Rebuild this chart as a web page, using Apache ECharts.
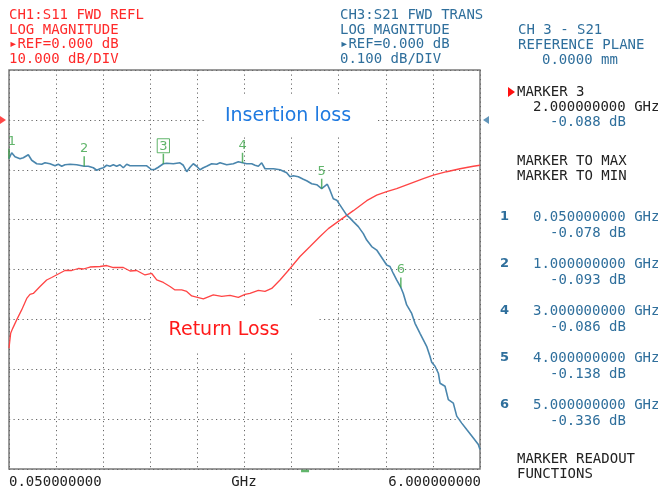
<!DOCTYPE html>
<html>
<head>
<meta charset="utf-8">
<title>S11 / S21</title>
<script src="https://cdn.jsdelivr.net/npm/echarts@6/dist/echarts.min.js"></script>
<style>
  html, body { margin: 0; padding: 0; background: #fff; }
  #container { width: 658px; height: 491px; }
</style>
</head>
<body>
<div id="container"></div>
<script>
// CH3 S21 (insertion loss), dB
var s21Freq = [0.05, 0.084, 0.126, 0.189, 0.231, 0.294, 0.337, 0.400, 0.463, 0.505, 0.568, 0.631, 0.673, 0.716, 0.757, 0.821, 0.905,
  1.0, 1.052, 1.115, 1.158, 1.2, 1.242, 1.284, 1.326, 1.368, 1.41, 1.452, 1.494, 1.537, 1.579, 1.663, 1.79, 1.853, 1.894, 1.936,
  2.0, 2.042, 2.126, 2.21, 2.252, 2.295, 2.337, 2.378, 2.421, 2.463, 2.505, 2.547, 2.61, 2.674, 2.716, 2.8, 2.884, 2.947,
  3.0, 3.053, 3.116, 3.158, 3.2, 3.242, 3.284, 3.326, 3.39, 3.474, 3.558, 3.6, 3.642, 3.705, 3.768, 3.81, 3.874, 3.937,
  4.0, 4.021, 4.071, 4.105, 4.147, 4.19, 4.232, 4.274, 4.316, 4.358, 4.4, 4.463, 4.526, 4.569, 4.632, 4.695, 4.737, 4.779, 4.821, 4.863, 4.905, 4.947,
  5.0, 5.031, 5.074, 5.137, 5.179, 5.242, 5.284, 5.326, 5.368, 5.39, 5.432, 5.474, 5.495, 5.558, 5.6, 5.663, 5.706, 5.769, 5.832, 5.916, 5.979, 6.0];
var s21Db = [-0.078, -0.066, -0.074, -0.078, -0.076, -0.070, -0.081, -0.088, -0.089, -0.086, -0.088, -0.092, -0.089, -0.093, -0.090, -0.089, -0.090,
  -0.093, -0.093, -0.096, -0.101, -0.098, -0.096, -0.091, -0.093, -0.090, -0.093, -0.090, -0.096, -0.089, -0.092, -0.092, -0.092, -0.100, -0.099, -0.095,
  -0.088, -0.087, -0.088, -0.086, -0.091, -0.104, -0.095, -0.088, -0.093, -0.100, -0.096, -0.093, -0.088, -0.089, -0.086, -0.090, -0.088, -0.084,
  -0.086, -0.088, -0.088, -0.091, -0.093, -0.086, -0.098, -0.098, -0.098, -0.100, -0.106, -0.114, -0.112, -0.114, -0.119, -0.122, -0.128, -0.130,
  -0.138, -0.140, -0.129, -0.141, -0.158, -0.161, -0.171, -0.181, -0.191, -0.197, -0.204, -0.214, -0.228, -0.241, -0.254, -0.261, -0.271, -0.281, -0.291, -0.294, -0.308, -0.321,
  -0.336, -0.348, -0.371, -0.388, -0.408, -0.428, -0.441, -0.454, -0.474, -0.486, -0.494, -0.508, -0.528, -0.534, -0.561, -0.568, -0.594, -0.608, -0.621, -0.638, -0.651, -0.661];

// CH1 S11 (return loss), dB
var s11Freq = [0.05, 0.071, 0.097, 0.147, 0.210, 0.274, 0.315, 0.357, 0.442, 0.526, 0.589, 0.673, 0.757, 0.842, 0.925, 0.989,
  1.073, 1.2, 1.284, 1.368, 1.494, 1.579, 1.663, 1.768, 1.853, 1.916, 2.0, 2.084, 2.147, 2.232, 2.295, 2.358, 2.505, 2.631, 2.737, 2.842, 2.947,
  3.031, 3.094, 3.2, 3.284, 3.369, 3.474, 3.6, 3.726, 3.853, 3.979, 4.084, 4.232, 4.4, 4.569, 4.695, 4.821, 4.947,
  5.116, 5.284, 5.411, 5.579, 5.747, 5.916, 6.0];
var s11Db = [-45.8, -42.8, -41.8, -40.1, -38.1, -35.8, -35.0, -34.8, -33.4, -32.1, -31.6, -30.9, -30.2, -30.2, -29.8, -29.9,
  -29.5, -29.4, -29.2, -29.6, -29.6, -30.3, -30.2, -31.1, -30.8, -32.1, -32.6, -33.4, -34.1, -34.1, -34.4, -35.3, -35.9, -35.1, -35.4, -35.2, -35.6,
  -35.0, -34.8, -34.2, -34.4, -33.8, -32.1, -29.8, -27.4, -25.4, -23.4, -21.8, -20.1, -18.2, -16.2, -15.1, -14.4, -13.8,
  -12.8, -11.8, -11.1, -10.4, -9.8, -9.3, -9.1];

// markers on S21
var markerNames = ['1', '2', '3', '4', '5', '6'];
var markerFreq = [0.05, 1.0, 2.0, 3.0, 4.0, 5.0];
var markerDb = [-0.078, -0.093, -0.088, -0.086, -0.138, -0.336];
var activeMarker = 2;

// scale settings
var freqStart = 0.05, freqStop = 6.0;
var s11Ref = 0, s11PerDiv = 10;
var s21Ref = 0, s21PerDiv = 0.1;
var refDiv = 7, nDivY = 8, nDivX = 10;
var stimTick = 3.79;

var mono = '"DejaVu Sans Mono", "Liberation Mono", monospace';
var red = '#ff2a2a', blue = '#2f6f9c', black = '#222', green = '#3aa346';

function pairs(xs, ys) {
  var out = [];
  for (var i = 0; i < xs.length; i++) out.push([xs[i], ys[i]]);
  return out;
}

function txt(x, y, s, color, extra) {
  var st = { text: s, fill: color, font: '14px ' + mono, align: 'left', verticalAlign: 'middle',
             textAlign: 'left', textVerticalAlign: 'middle', lineHeight: 14.7 };
  if (extra) for (var k in extra) st[k] = extra[k];
  return { type: 'text', x: x, y: y, z: 20, style: st };
}

var markerData = [];
for (var i = 0; i < markerNames.length; i++) {
  var d = { name: markerNames[i], value: [markerFreq[i], markerDb[i]] };
  if (i === activeMarker) {
    d.label = { borderColor: green, borderWidth: 1, padding: [1, 2, 0, 2] };
  }
  if (i === 0) {
    d.label = { offset: [3, 0] };
  }
  markerData.push(d);
}

// right panel marker readout
var panel = [];
panel.push(txt(517, 92, 'MARKER ' + markerNames[activeMarker], black));
panel.push({ type: 'polygon', z: 20, shape: { points: [[508, 87], [515, 92], [508, 97]] }, style: { fill: '#ff1010' } });
panel.push(txt(533, 107, markerFreq[activeMarker].toFixed(9) + ' GHz', black));
panel.push(txt(550, 122, markerDb[activeMarker].toFixed(3) + ' dB', blue));
panel.push(txt(517, 169, 'MARKER TO MAX\nMARKER TO MIN', black));
var rowY = 217;
for (var j = 0; j < markerNames.length; j++) {
  if (j === activeMarker) continue;
  panel.push(txt(500, rowY, markerNames[j], blue, { font: 'bold 13px "DejaVu Sans", sans-serif' }));
  panel.push(txt(533, rowY, markerFreq[j].toFixed(9) + ' GHz', blue));
  panel.push(txt(550, rowY + 16, markerDb[j].toFixed(3) + ' dB', blue));
  rowY += 47;
}
panel.push(txt(517, 467, 'MARKER READOUT\nFUNCTIONS', black));

var myChart = echarts.init(document.getElementById('container'));
var option = {
  animation: false,
  backgroundColor: '#fff',
  grid: { left: 9, right: 178, top: 70, bottom: 22, show: true, borderColor: '#7a7a7a', borderWidth: 1.5 },
  xAxis: [
    { type: 'value', min: 0, max: nDivX, interval: 1, axisLine: { show: false }, axisTick: { show: false }, axisLabel: { show: false },
      splitLine: { show: true, lineStyle: { color: '#666', width: 1, type: [1.2, 3.3] } } },
    { type: 'value', min: freqStart, max: freqStop, show: false }
  ],
  yAxis: [
    { type: 'value', min: -refDiv, max: nDivY - refDiv, interval: 1, axisLine: { show: false }, axisTick: { show: false }, axisLabel: { show: false },
      splitLine: { show: true, lineStyle: { color: '#666', width: 1, type: [1.2, 3.3] } } },
    { type: 'value', min: s21Ref - refDiv * s21PerDiv, max: s21Ref + (nDivY - refDiv) * s21PerDiv, show: false },
    { type: 'value', min: s11Ref - refDiv * s11PerDiv, max: s11Ref + (nDivY - refDiv) * s11PerDiv, show: false }
  ],
  series: [
    { name: 'S11', type: 'line', xAxisIndex: 1, yAxisIndex: 2, data: pairs(s11Freq, s11Db), showSymbol: false,
      lineStyle: { color: '#ff4545', width: 1.3 }, z: 3 },
    { name: 'S21', type: 'line', xAxisIndex: 1, yAxisIndex: 1, data: pairs(s21Freq, s21Db), showSymbol: false,
      lineStyle: { color: '#4a86ad', width: 1.6 }, z: 4 },
    { name: 'markers', type: 'scatter', xAxisIndex: 1, yAxisIndex: 1, data: markerData, clip: false, z: 5,
      symbol: 'rect', symbolSize: [1.5, 10], symbolOffset: [0, -5], itemStyle: { color: green },
      label: { show: true, position: 'top', distance: 1, color: green, fontSize: 13, fontFamily: '"DejaVu Sans", sans-serif',
               formatter: function (p) { return p.name; } } },
    { name: 'ref11', type: 'scatter', xAxisIndex: 1, yAxisIndex: 2, data: [[freqStart, s11Ref]], clip: false, z: 5,
      symbol: 'path://M0,0L10,6L0,12Z', symbolSize: [6, 8], symbolOffset: [-6, 0], itemStyle: { color: '#ff1a1a' } },
    { name: 'ref21', type: 'scatter', xAxisIndex: 1, yAxisIndex: 1, data: [[freqStop, s21Ref]], clip: false, z: 5,
      symbol: 'path://M10,0L0,6L10,12Z', symbolSize: [6, 8], symbolOffset: [6, 0], itemStyle: { color: '#3a7aa8' } },
    { name: 'stim', type: 'scatter', xAxisIndex: 1, yAxisIndex: 1, data: [[stimTick, s21Ref - refDiv * s21PerDiv]], clip: false, z: 5,
      symbol: 'rect', symbolSize: [8, 2.5], symbolOffset: [0, 2], itemStyle: { color: green } }
  ],
  graphic: [
    txt(9, 8, 'CH1:S11 FWD REFL\nLOG MAGNITUDE\n\u25B8REF=' + s11Ref.toFixed(3) + ' dB\n' + s11PerDiv.toFixed(3) + ' dB/DIV', red,
        { verticalAlign: 'top', textVerticalAlign: 'top' }),
    txt(340, 8, 'CH3:S21 FWD TRANS\nLOG MAGNITUDE\n\u25B8REF=' + s21Ref.toFixed(3) + ' dB\n' + s21PerDiv.toFixed(3) + ' dB/DIV', blue,
        { verticalAlign: 'top', textVerticalAlign: 'top' }),
    txt(518, 30, 'CH 3 - S21', blue),
    txt(518, 45, 'REFERENCE PLANE', blue),
    txt(542, 60, '0.0000 mm', blue),
    txt(9, 482, freqStart.toFixed(9), black),
    txt(244, 482, 'GHz', black, { align: 'center', textAlign: 'center' }),
    txt(481, 482, freqStop.toFixed(9), black, { align: 'right', textAlign: 'right' }),
    { type: 'text', x: 291, y: 116, z: 10, style: { text: 'Insertion loss', fill: '#1f7ae0', font: '19px "DejaVu Sans", sans-serif',
      align: 'center', verticalAlign: 'middle', textAlign: 'center', textVerticalAlign: 'middle',
      backgroundColor: '#fff', padding: [11, 24, 11, 18] } },
    { type: 'text', x: 235, y: 330, z: 10, style: { text: 'Return Loss', fill: '#ff1a1a', font: '19px "DejaVu Sans", sans-serif',
      align: 'center', verticalAlign: 'middle', textAlign: 'center', textVerticalAlign: 'middle',
      backgroundColor: '#fff', padding: [11, 39, 15, 17] } }
  ].concat(panel)
};
myChart.setOption(option);
</script>
</body>
</html>
